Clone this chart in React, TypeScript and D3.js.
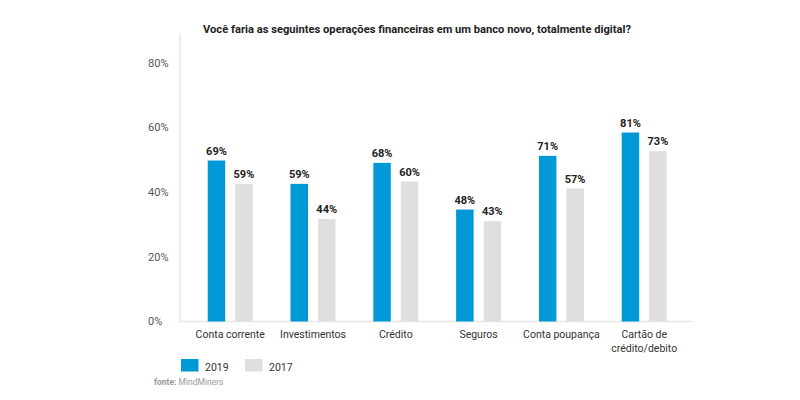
import React from "react";
import * as d3 from "d3";

const title = "Você faria as seguintes operações financeiras em um banco novo, totalmente digital?";
const categories = ["Conta corrente", "Investimentos", "Crédito", "Seguros", "Conta poupança", "Cartão de\ncrédito/debito"];
const series = ["2019", "2017"];
const values2019 = [69, 59, 68, 48, 71, 81];
const values2017 = [59, 44, 60, 43, 57, 73];
const axisTicks = [0, 20, 40, 60, 80];
const source = "MindMiners";

const W = 800;
const H = 400;
const BLUE = "#0098d6";
const GRAY = "#e0dfdf";
const FONT = "Roboto, 'DejaVu Sans', sans-serif";

export default function App() {
  const baseY = 321.5;
  const x = d3
    .scaleBand<string>()
    .domain(categories)
    .range([188.8, 685.6])
    .paddingInner(0.457)
    .paddingOuter(0.2285);
  const xInner = d3
    .scaleBand<string>()
    .domain(series)
    .range([0, x.bandwidth()])
    .paddingInner(0.364);
  const yBar = d3.scaleLinear().domain([0, 100]).range([baseY, baseY - 233.3]);
  const yAxis = d3.scaleLinear().domain([0, 80]).range([baseY, 62.7]);
  const seriesValues: Record<string, number[]> = { "2019": values2019, "2017": values2017 };
  const colors: Record<string, string> = { "2019": BLUE, "2017": GRAY };

  return (
    <svg
      width={W}
      height={H}
      style={{ position: "absolute", left: 0, top: 0, background: "#fff" }}
      fontFamily={FONT}
    >
      <rect x={0} y={0} width={W} height={H} fill="#fff" />
      <text
        x={417}
        y={33}
        textAnchor="middle"
        fontSize={11.5}
        fontWeight="bold"
        fill="#222"
        textLength={428}
        lengthAdjust="spacingAndGlyphs"
      >
        {title}
      </text>
      {/* axes */}
      <line x1={180} x2={180} y1={33} y2={baseY} stroke="#e6e6e6" strokeWidth={1.5} />
      <line x1={180} x2={692} y1={baseY} y2={baseY} stroke="#e6e6e6" strokeWidth={1.5} />
      {axisTicks.map((t) => (
        <text key={t} x={148} y={yAxis(t)} dy="0.35em" fontSize={11} fill="#555">
          {t}%
        </text>
      ))}
      {/* bars */}
      {categories.map((c, i) => (
        <g key={c} transform={`translate(${x(c)},0)`}>
          {series.map((s) => {
            const v = seriesValues[s][i];
            const bx = xInner(s) as number;
            return (
              <g key={s}>
                <rect
                  x={bx}
                  y={yBar(v)}
                  width={xInner.bandwidth()}
                  height={baseY - yBar(v)}
                  fill={colors[s]}
                />
                <text
                  x={bx + xInner.bandwidth() / 2}
                  y={yBar(v) - 6}
                  textAnchor="middle"
                  fontSize={11}
                  fontWeight="bold"
                  fill="#222"
                >
                  {v}%
                </text>
              </g>
            );
          })}
          {c.split("\n").map((line, li) => (
            <text
              key={li}
              x={x.bandwidth() / 2}
              y={338 + li * 14}
              textAnchor="middle"
              fontSize={10.5}
              fill="#333"
            >
              {line}
            </text>
          ))}
        </g>
      ))}
      {/* legend */}
      {series.map((s, i) => (
        <g key={s} transform={`translate(${181 + i * 64},359)`}>
          <rect x={0} y={0} width={17.5} height={12.5} fill={colors[s]} />
          <text x={24} y={11.5} fontSize={10.5} fill="#333">
            {s}
          </text>
        </g>
      ))}
      <text x={154} y={385} fontSize={8.5} fill="#9a9a9a">
        <tspan fontWeight="bold">fonte:</tspan> {source}
      </text>
    </svg>
  );
}
